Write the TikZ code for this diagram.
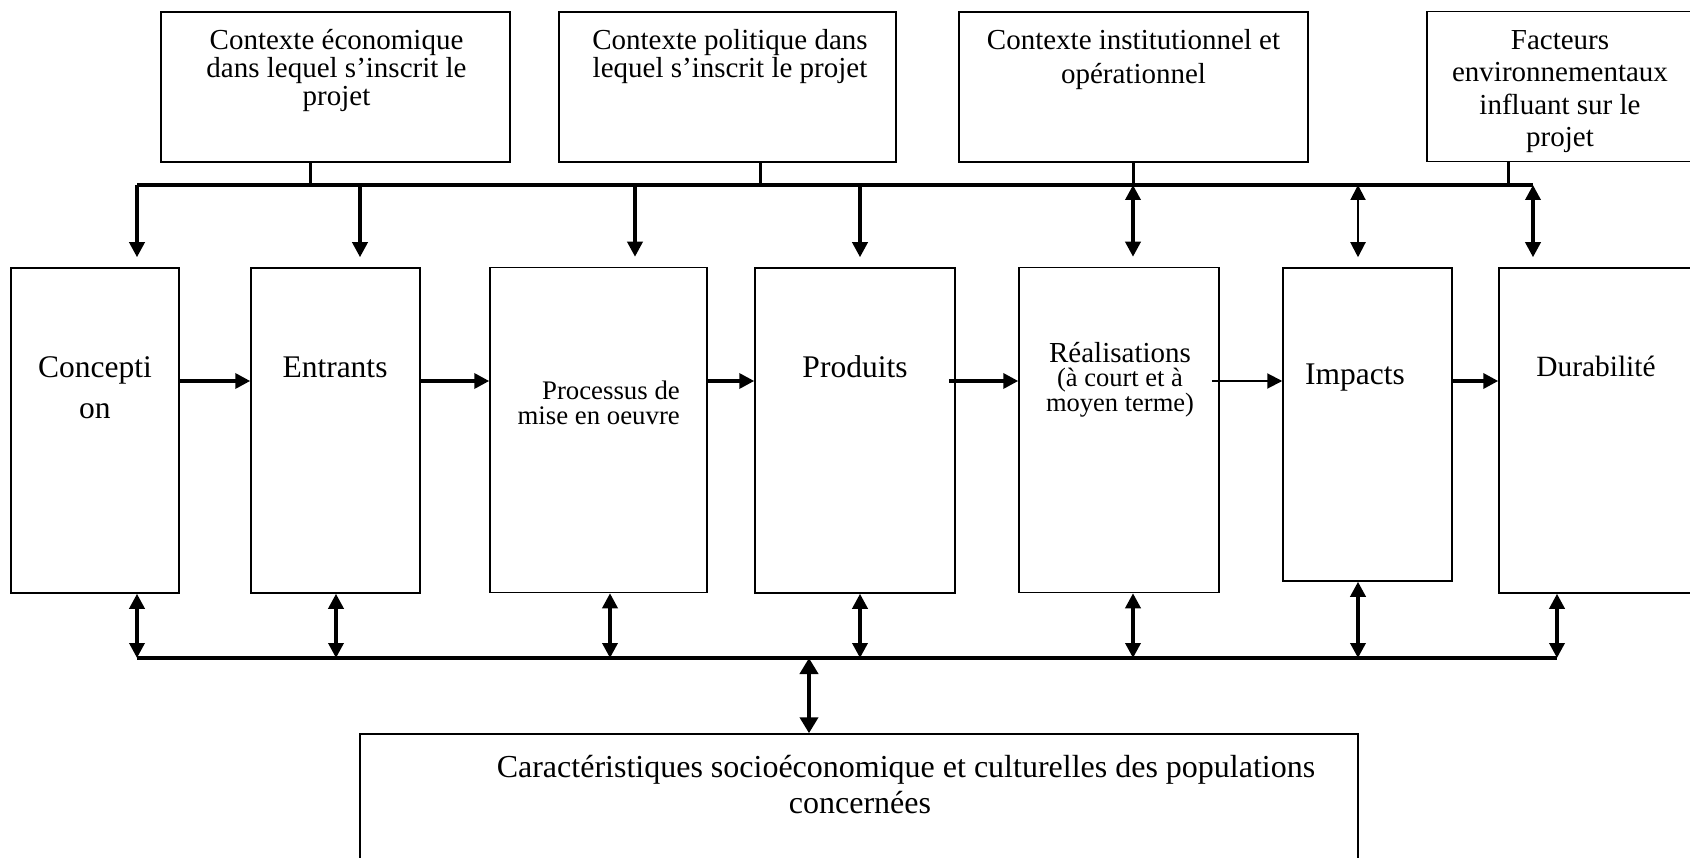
\documentclass[tikz,border=0pt]{standalone}
\usepackage{fontspec}
\setmainfont{Liberation Serif}
\usetikzlibrary{arrows.meta}

\begin{document}
\begin{tikzpicture}[x=1pt,y=-1pt,>={Triangle[length=15pt,width=15pt]},
    ctx node/.style={draw,line width=1.5pt,minimum height=150pt,inner sep=0pt},
    stage node/.style={draw,line width=1.5pt,minimum height=325pt,inner sep=0pt},
    ctx text/.style={align=center,inner sep=0pt,font=\fontsize{29}{28}\selectfont},
    stage text/.style={align=center,inner sep=0pt,font=\fontsize{31.5}{41}\selectfont},
    bus/.style={line width=4pt},
    stem/.style={line width=3pt},
    link/.style={line width=3.5pt,->},
    thin link/.style={line width=2pt,->}]
  \useasboundingbox (0,0) rectangle (1690,858);
  \clip (0,0) rectangle (1690,858);
  % contextes
  \node[ctx node,minimum width=349pt] (eco) at (335.5,87) {};
  \node[ctx node,minimum width=337pt] (pol) at (727.5,87) {};
  \node[ctx node,minimum width=349pt] (inst) at (1133.5,87) {};
  \node[ctx node,minimum width=273pt] (env) at (1563.5,86.5) {};
  \node[ctx text] (eco_t) at (336.5,71) {Contexte économique\\dans lequel s’inscrit le\\projet};
  \node[ctx text] (pol_t) at (730,57) {Contexte politique dans\\lequel s’inscrit le projet};
  \node[ctx text,font=\fontsize{29}{34}\selectfont] (inst_t) at (1133.5,60) {Contexte institutionnel et\\opérationnel};
  \node[ctx text,font=\fontsize{29}{32.3}\selectfont] (env_t) at (1560,91.5) {Facteurs\\environnementaux\\influant sur le\\projet};
  % etapes
  \node[stage node,minimum width=168pt] (concept) at (95,430.5) {};
  \node[stage node,minimum width=169pt] (entr) at (335.5,430.5) {};
  \node[stage node,minimum width=217pt] (proc) at (598.5,430) {};
  \node[stage node,minimum width=200pt] (prod) at (855,430.5) {};
  \node[stage node,minimum width=200pt] (real) at (1119,430) {};
  \node[stage node,minimum width=169pt,minimum height=313pt] (imp) at (1367.5,424.5) {};
  \node[stage node,minimum width=210pt] (dur) at (1604,430.5) {};
  \node[stage text] (concept_t) at (95,387.5) {Concepti\\on};
  \node[stage text] (entr_t) at (335,367) {Entrants};
  \node[stage text,align=right,anchor=east,font=\fontsize{26.8}{25.5}\selectfont] (proc_t) at (680,403) {Processus de\\mise en oeuvre};
  \node[stage text] (prod_t) at (855,367) {Produits};
  \node[stage text,font=\fontsize{26.5}{24}\selectfont] (real_t) at (1120,380) {{\fontsize{29}{24}\selectfont Réalisations}\\(à court et à\\moyen terme)};
  \node[stage text] (imp_t) at (1355,377.5) {Impacts};
  \node[stage text,font=\fontsize{29.4}{36}\selectfont] (dur_t) at (1596,366) {Durabilité};
  % populations
  \node[draw,line width=1.5pt,minimum width=998pt,minimum height=150pt,inner sep=0pt] (soc) at (859,809) {};
  \node[align=center,inner sep=0pt,font=\fontsize{32}{36}\selectfont] (soc_t) at (860,785) {\hspace*{92pt}Caractéristiques socioéconomique et culturelles des populations\\concernées};
  % barres
  \coordinate (top_l) at (137,185);
  \coordinate (top_r) at (1533,185);
  \coordinate (bot_l) at (137,658);
  \coordinate (bot_r) at (1557,658);
  \draw[bus] (top_l) -- (top_r);
  \draw[bus] (bot_l) -- (bot_r);
  \draw[stem] ([xshift=-25pt]eco.south) -- ++(0,23);
  \draw[stem] ([xshift=32.5pt]pol.south) -- ++(0,23);
  \draw[stem] (inst.south) -- ++(0,23);
  \draw[stem] ([xshift=-55.5pt]env.south) -- ++(0,23.5);
  \foreach \n/\x in {concept/137,entr/360,proc/635,prod/860}
    \draw[link,shorten >=10pt] (\x,185) -- (\n.north -| \x,0);
  \foreach \n/\x in {real/1133,dur/1533}
    \draw[link,<->,shorten >=10pt] (\x,185) -- (\n.north -| \x,0);
  \draw[thin link,<->,shorten >=10pt] (1358,185) -- (imp.north -| 1358,0);
  \foreach \n/\x in {concept/137,entr/336,proc/610,prod/860,real/1133,imp/1358,dur/1557}
    \draw[link,<->] (\n.south -| \x,0) -- (\x,658);
  \draw[line width=4.5pt,<->,>={Triangle[length=16pt,width=18pt]}] (809,658) -- (soc.north -| 809,0);
  % fleches
  \path[link]
    ([yshift=49.5pt]concept.east) edge ([yshift=49.5pt]entr.west)
    ([yshift=49.5pt]entr.east) edge ([yshift=49pt]proc.west)
    ([yshift=49pt]proc.east) edge ([yshift=49.5pt]prod.west)
    ([xshift=-7pt,yshift=49.5pt]prod.east) edge ([yshift=49pt]real.west)
    ([yshift=43.5pt]imp.east) edge ([yshift=49.5pt]dur.west);
  \path[thin link] ([xshift=-8pt,yshift=49pt]real.east) edge ([yshift=43.5pt]imp.west);
\end{tikzpicture}
\end{document}
